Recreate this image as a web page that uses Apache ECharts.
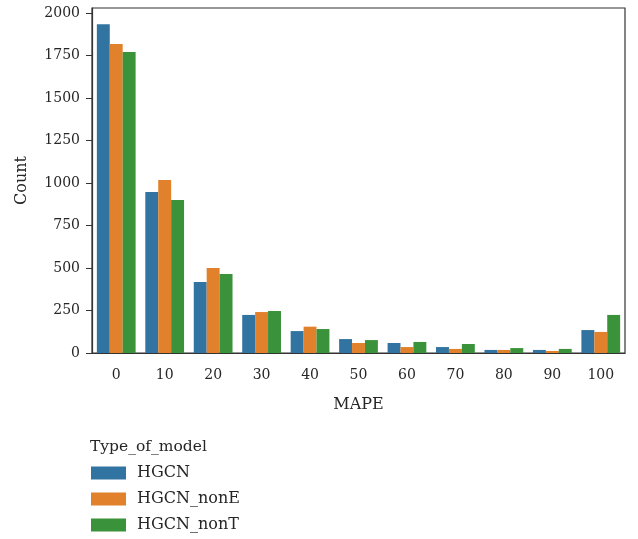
<!DOCTYPE html>
<html>
<head>
<meta charset="utf-8">
<script src="https://cdn.jsdelivr.net/npm/echarts@6/dist/echarts.min.js"></script>
<style>
  html, body { margin: 0; padding: 0; background: #fff; }
  #main { width: 638px; height: 539px; }
</style>
</head>
<body>
<div id="main"></div>
<script>
// MAPE bins
var categories = ['0', '10', '20', '30', '40', '50', '60', '70', '80', '90', '100'];
var seriesNames = ['HGCN', 'HGCN_nonE', 'HGCN_nonT'];
var hgcn = [1935, 947, 418, 224, 129, 82, 59, 35, 18, 18, 135];
var hgcnNonE = [1818, 1018, 500, 241, 155, 59, 35, 24, 18, 12, 124];
var hgcnNonT = [1771, 900, 465, 247, 141, 76, 65, 53, 29, 24, 224];
var yTicks = [0, 250, 500, 750, 1000, 1250, 1500, 1750, 2000];

var colors = ['#3274a1', '#e1812c', '#3a923a'];
var font = 'DejaVu Serif';
var axisCol = '#333';
var txtCol = '#262626';

var myChart = echarts.init(document.getElementById('main'));

// 拼 series
var values = [hgcn, hgcnNonE, hgcnNonT];
var series = [];
for (var i = 0; i < values.length; i++) {
	series.push({
		name: seriesNames[i],
		type: 'bar',
		data: values[i],
		barGap: '0%',
		barCategoryGap: '20%',
		itemStyle: { color: colors[i] }
	});
}

var option = {
	animation: false,
	textStyle: { fontFamily: font },
	title: {
		text: 'Type_of_model',
		left: 90,
		top: 439,
		padding: 0,
		textStyle: { fontFamily: font, fontSize: 15.5, fontWeight: 'normal', color: txtCol }
	},
	legend: {
		orient: 'vertical',
		left: 91,
		top: 465,
		height: 74,
		padding: 0,
		itemWidth: 35,
		itemHeight: 13,
		itemGap: 10,
		icon: 'rect',
		textStyle: { fontFamily: font, fontSize: 16, lineHeight: 16, color: txtCol, padding: [0, 0, 0, 6] },
		data: seriesNames
	},
	grid: {
		left: 92,
		top: 8,
		right: 13,
		bottom: 186,
		show: true,
		borderColor: axisCol,
		borderWidth: 1.2
	},
	xAxis: {
		type: 'category',
		data: categories,
		name: 'MAPE',
		nameLocation: 'middle',
		nameGap: 44,
		nameTextStyle: { fontFamily: font, fontSize: 16, color: txtCol },
		axisLine: { lineStyle: { color: axisCol, width: 1.2 } },
		axisTick: { alignWithLabel: true, length: 6, lineStyle: { color: axisCol } },
		axisLabel: { fontFamily: font, fontSize: 14, color: txtCol, margin: 15 }
	},
	yAxis: {
		type: 'value',
		min: 0,
		max: 2030,
		name: 'Count',
		nameLocation: 'middle',
		nameGap: 62,
		nameTextStyle: { fontFamily: font, fontSize: 16, color: txtCol },
		axisLine: { show: true, lineStyle: { color: axisCol, width: 1.2 } },
		axisTick: { show: true, length: 6, lineStyle: { color: axisCol }, customValues: yTicks },
		axisLabel: {
			fontFamily: font, fontSize: 14, color: txtCol, margin: 12, customValues: yTicks,
			formatter: function (v) { return String(v); }
		},
		splitLine: { show: false }
	},
	series: series
};

myChart.setOption(option);
</script>
</body>
</html>
